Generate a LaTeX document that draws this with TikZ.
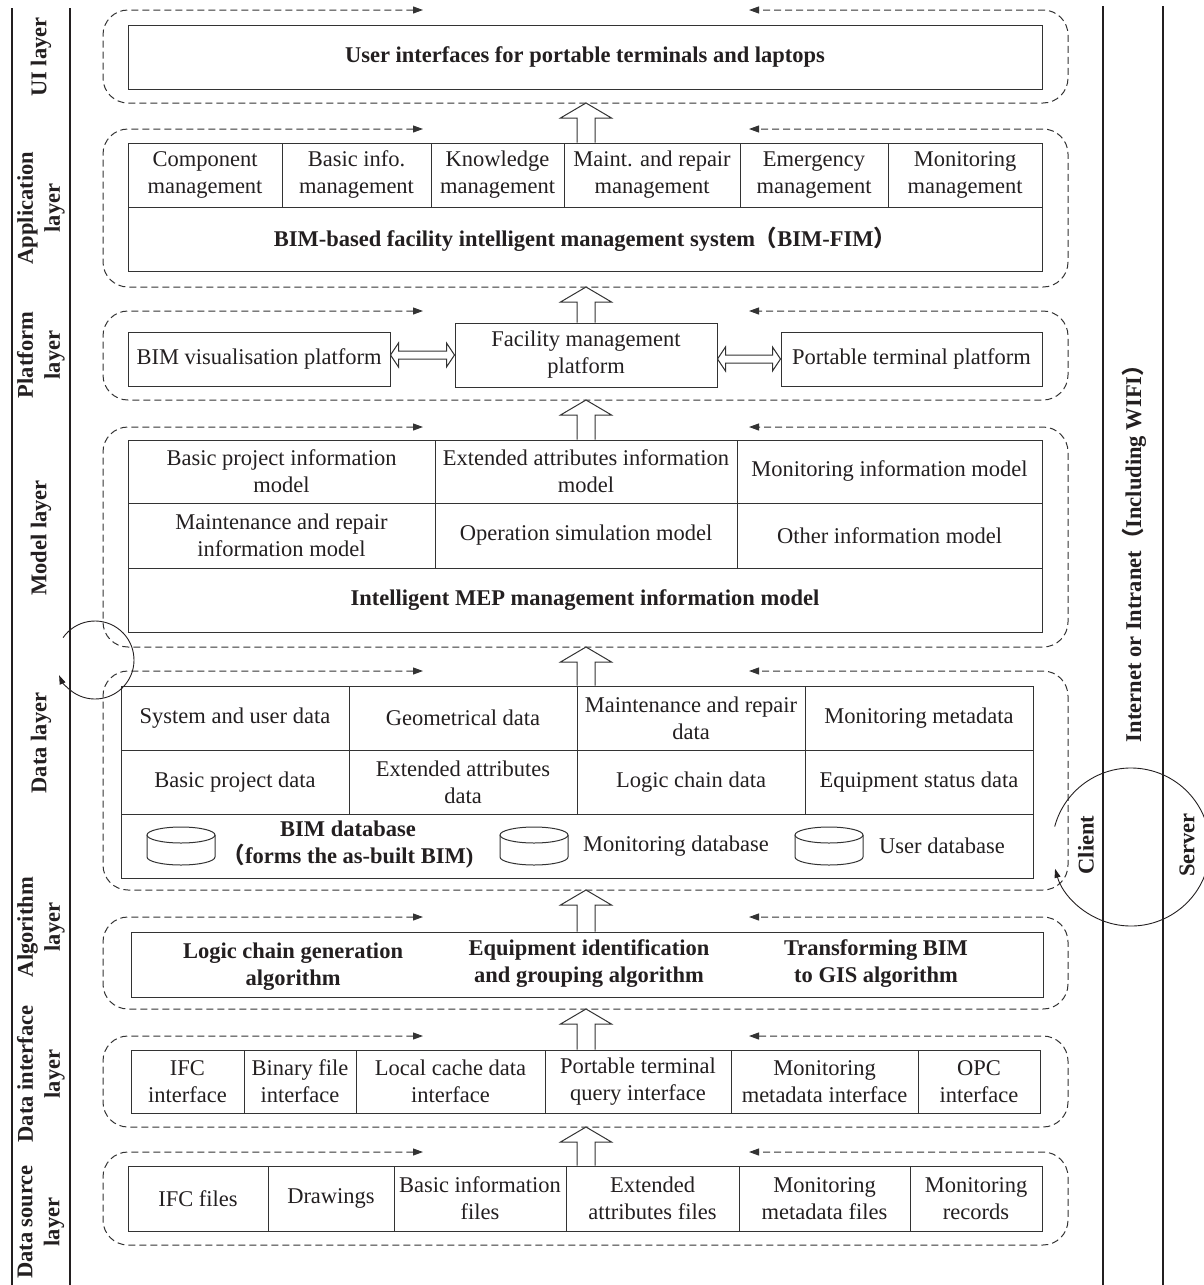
\documentclass[tikz,border=0pt]{standalone}
\usepackage{fontspec}
\setmainfont{Liberation Serif}
\newfontfamily\cjk{Noto Sans CJK SC}
\usetikzlibrary{calc,arrows.meta}
\definecolor{ink}{HTML}{231F20}
\definecolor{ln}{HTML}{333333}
\tikzset{
  cell/.style={draw=ln, line width=1pt, inner sep=0pt, align=center, text=ink, font=\fontsize{22.5}{27}\selectfont},
  bcell/.style={cell, font=\fontsize{22.5}{27}\selectfont\bfseries},
  txt/.style={inner sep=0pt, align=center, text=ink, font=\fontsize{22.5}{27}\selectfont},
  btxt/.style={txt, font=\fontsize{22.5}{27}\selectfont\bfseries},
  lab/.style={btxt, rotate=90},
  vline/.style={draw=ink, line width=2.8pt},
  dbox/.style={draw=ln, line width=1pt, dash pattern=on 7pt off 4pt, rounded corners=25pt, {Triangle[length=10pt,width=7pt]}-{Triangle[length=10pt,width=7pt]}},
  hol/.style={draw=ln, line width=1pt, fill=white},
  cyc/.style={draw=ink, line width=0.9pt, -{Triangle[length=9pt,width=6pt]}},
  cyl/.style={draw=ln, line width=1pt, fill=white},
}
\newcommand{\cbox}[7][cell]{\node[#1, minimum width={(#5-#3)*1pt}, minimum height={(#6-#4)*1pt}] (#2) at ({(#3+#5)/2},{(#4+#6)/2}) {#7};}
\newcommand{\dashlayer}[2]{\draw[dbox] (423,#1) -- (103,#1) -- (103,#2) -- (1068,#2) -- (1068,#1) -- (749,#1);}
\newcommand{\hollowup}[2]{\draw[hol] let \p1=(#1), \p2=(#2) in (\x2-9pt,\y1) -- (\x2-9pt,\y2-15pt) -- (\x2-25.5pt,\y2-15pt) -- (\x2,\y2) -- (\x2+25.5pt,\y2-15pt) -- (\x2+9pt,\y2-15pt) -- (\x2+9pt,\y1);}
\newcommand{\hollowlr}[2]{\draw[hol] let \p1=(#1), \p2=(#2) in (\x1,\y2) -- (\x1+8pt,\y2+12pt) -- (\x1+8pt,\y2+4pt) -- (\x2-8pt,\y2+4pt) -- (\x2-8pt,\y2+12pt) -- (\x2,\y2) -- (\x2-8pt,\y2-12pt) -- (\x2-8pt,\y2-4pt) -- (\x1+8pt,\y2-4pt) -- (\x1+8pt,\y2-12pt) -- cycle;}
\newcommand{\cylinder}[2]{\draw[cyl] (#1-34,#2) -- (#1-34,#2+22) arc[start angle=180, end angle=360, x radius=34, y radius=-8] -- (#1+34,#2) ; \draw[cyl] (#1,#2) ellipse[x radius=34, y radius=8];}
\begin{document}
\begin{tikzpicture}[x=1pt,y=-1pt]
\useasboundingbox (0,0) rectangle (1204,1285);
% dashed layer frames
\dashlayer{10}{103}
\dashlayer{129}{287}
\dashlayer{311}{400}
\dashlayer{427}{647}
\dashlayer{671}{890}
\dashlayer{917}{1009}
\dashlayer{1036}{1127}
\dashlayer{1152}{1245}
% UI layer
\cbox[bcell]{ui}{128}{25}{1042}{89}{User interfaces for portable terminals and laptops}
% Application layer
\cbox{app1}{128}{143}{282}{207}{Component\\management}
\cbox{app2}{282}{143}{431}{207}{Basic info.\\management}
\cbox{app3}{431}{143}{564}{207}{Knowledge\\management}
\cbox{app4}{564}{143}{740}{207}{Maint. and repair\\management}
\cbox{app5}{740}{143}{888}{207}{Emergency\\management}
\cbox{app6}{888}{143}{1042}{207}{Monitoring\\management}
\cbox[bcell]{app7}{128}{207}{1042}{271}{BIM-based facility intelligent management system{\cjk （}BIM-FIM{\cjk ）}}
% Platform layer
\cbox{bim}{128}{332}{390}{386}{BIM visualisation platform}
\cbox{fmp}{455}{323}{717}{387}{Facility management\\platform}
\cbox{ptp}{781}{332}{1042}{386}{Portable terminal platform}
% Model layer
\cbox{m1}{128}{440}{435}{503}{Basic project information\\model}
\cbox{m2}{435}{440}{737}{503}{Extended attributes information\\model}
\cbox{m3}{737}{440}{1042}{503}{Monitoring information model}
\cbox{m4}{128}{503}{435}{568}{Maintenance and repair\\information model}
\cbox{m5}{435}{503}{737}{568}{Operation simulation model}
\cbox{m6}{737}{503}{1042}{568}{Other information model}
\cbox[bcell]{m7}{128}{568}{1042}{632}{Intelligent MEP management information model}
% Data layer
\cbox{d1}{121}{686}{349}{750}{System and user data}
\cbox{d2}{349}{686}{577}{750}{Geometrical data}
\cbox{d3}{577}{686}{805}{750}{Maintenance and repair\\data}
\cbox{d4}{805}{686}{1033}{750}{Monitoring metadata}
\cbox{d5}{121}{750}{349}{814}{Basic project data}
\cbox{d6}{349}{750}{577}{814}{Extended attributes\\data}
\cbox{d7}{577}{750}{805}{814}{Logic chain data}
\cbox{d8}{805}{750}{1033}{814}{Equipment status data}
\cbox{db}{121}{814}{1033}{878}{}
\cylinder{181}{835}
\cylinder{534}{835}
\cylinder{829}{835}
\node[btxt] (bimdb) at (348,845) {BIM database\\{\cjk （}forms the as-built BIM)};
\node[txt] (mondb) at (676,846) {Monitoring database};
\node[txt] (usrdb) at (942,846) {User database};
% Algorithm layer
\cbox{alg}{131}{932}{1043}{997}{}
\node[btxt] (alg1) at (293,967) {Logic chain generation\\algorithm};
\node[btxt] (alg2) at (589,964) {Equipment identification\\and grouping algorithm};
\node[btxt] (alg3) at (876,964) {Transforming BIM\\to GIS algorithm};
% Data interface layer
\cbox{di1}{131}{1050}{244}{1113}{IFC\\interface}
\cbox{di2}{244}{1050}{356}{1113}{Binary file\\interface}
\cbox{di3}{356}{1050}{545}{1113}{Local cache data\\interface}
\cbox{di4}{545}{1050}{731}{1113}{Portable terminal\\query interface}
\cbox{di5}{731}{1050}{918}{1113}{Monitoring\\metadata interface}
\cbox{di6}{918}{1050}{1040}{1113}{OPC\\interface}
% Data source layer
\cbox{ds1}{128}{1166}{268}{1231}{IFC files}
\cbox{ds2}{268}{1166}{394}{1231}{Drawings}
\cbox{ds3}{394}{1166}{566}{1231}{Basic information\\files}
\cbox{ds4}{566}{1166}{739}{1231}{Extended\\attributes files}
\cbox{ds5}{739}{1166}{910}{1231}{Monitoring\\metadata files}
\cbox{ds6}{910}{1166}{1042}{1231}{Monitoring\\records}
% hollow arrows between layers
\coordinate (t1) at (586,103);
\coordinate (t2) at (586,287);
\coordinate (t3) at (586,400);
\coordinate (t4) at (586,647);
\coordinate (t5) at (586,890);
\coordinate (t6) at (586,1009);
\coordinate (t7) at (586,1127);
\hollowup{app4.north}{t1}
\hollowup{fmp.north}{t2}
\hollowup{m2.north}{t3}
\hollowup{d3.north}{t4}
\hollowup{alg.north}{t5}
\hollowup{di4.north}{t6}
\hollowup{ds4.north}{t7}
\hollowlr{bim.east}{fmp.west}
\hollowlr{fmp.east}{ptp.west}
% left labels
\node[lab] (lui) at (41,57) {UI layer};
\node[lab] (lapp) at (41,208) {Application\\layer};
\node[lab] (lplt) at (41,355) {Platform\\layer};
\node[lab] (lmod) at (41,538) {Model layer};
\node[lab] (ldat) at (41,743) {Data layer};
\node[lab] (lalg) at (41,927) {Algorithm\\layer};
\node[lab] (ldi) at (41,1074) {Data interface\\layer};
\node[lab] (lds) at (41,1222) {Data source\\layer};
% right labels
\node[lab] (net) at (1134,548) {Internet or Intranet{\cjk （}Including WIFI{\cjk ）}};
\node[lab] (cli) at (1086,845) {Client};
\node[lab] (srv) at (1187,845) {Server};
% vertical lines
\draw[vline] (12,8) -- (12,1285);
\draw[vline] (70,8) -- (70,1285);
\draw[vline] (1103,6) -- (1103,1285);
\draw[vline] (1163,6) -- (1163,1285);
% cycle circles
\draw[cyc] (95,660) ++(-145:39) arc[start angle=-145, end angle=157, radius=39];
\draw[cyc] (1131,847) ++(-165:79) arc[start angle=-165, end angle=164, radius=79];
\end{tikzpicture}
\end{document}
